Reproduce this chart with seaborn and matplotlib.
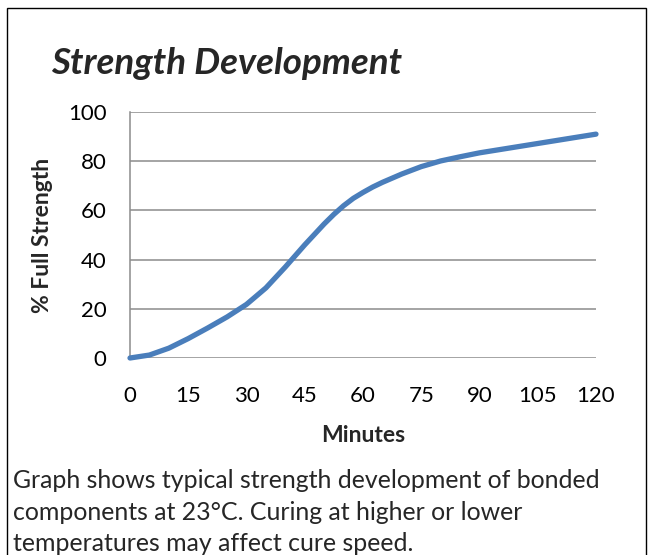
import pandas as pd
import seaborn as sns
import matplotlib.pyplot as plt
from matplotlib.patches import Rectangle

# values
minutes = [0, 5, 10, 15, 20, 25, 30, 35, 40, 45, 50, 52.5, 55, 57.5, 60, 62.5, 65, 70,
           75, 80, 85, 90, 105, 120]
strength = [0, 1.2, 4, 7.9, 12.2, 16.7, 21.8, 28.5, 37, 46, 54.5, 58.4, 61.9, 64.9,
            67.3, 69.5, 71.4, 74.8, 77.8, 80.1, 81.8, 83.4, 87.2, 91]
x_ticks = [0, 15, 30, 45, 60, 75, 90, 105, 120]
y_ticks = [0, 20, 40, 60, 80, 100]

title = "Strength Development"
caption_lines = ["Graph shows typical strength development of bonded",
                 "components at 23°C. Curing at higher or lower",
                 "temperatures may affect cure speed."]

sns.set_style("white")
plt.rcParams['font.family'] = ['Lato', 'DejaVu Sans']

df = pd.DataFrame({'Minutes': minutes, 'Strength': strength})

W, H = 652, 555
fig = plt.figure(figsize=(W / 100, H / 100), dpi=100)
ax = fig.add_axes([130 / W, 1 - 358 / H, 466 / W, 246 / H])

sns.lineplot(data=df, x='Minutes', y='Strength', ax=ax, color='#4A7EBB',
             linewidth=3.8, solid_capstyle='round', solid_joinstyle='round',
             clip_on=False, zorder=3)

ax.set_xlim(0, 120)
ax.set_ylim(0, 100)
ax.set_xticks(x_ticks)
ax.set_yticks(y_ticks)
ax.yaxis.grid(True, color='#8c8c8c', lw=1.1)
ax.xaxis.grid(False)
for s in ['top', 'right', 'bottom']:
    ax.spines[s].set_visible(False)
ax.spines['left'].set_color('#8c8c8c')
ax.spines['left'].set_linewidth(1.1)
ax.tick_params(axis='both', length=0, labelsize=16, colors='black')
ax.tick_params(axis='x', pad=20)
ax.tick_params(axis='y', pad=17)

ax.set_xlabel("Minutes", fontsize=16.5, fontweight='bold')
ax.xaxis.label.set_va('baseline')
ax.xaxis.set_label_coords(0.5, -(441.7 - 358) / 246)
ax.set_ylabel("% Full Strength", fontsize=16.5, fontweight='bold')
ax.yaxis.set_label_coords(-(130 - 53) / 466, 0.5)

fig.text(51 / W, 1 - 73.5 / H, title, fontsize=26.5, fontweight='bold',
         fontstyle='italic', va='baseline', ha='left')
for i, line in enumerate(caption_lines):
    fig.text(13 / W, 1 - (488.5 + 31.3 * i) / H, line, fontsize=17.9,
             va='baseline', ha='left')

fig.add_artist(Rectangle((7 / W, -0.1), (646 - 7) / W, (H - 8) / H + 0.1,
                         transform=fig.transFigure, fill=False,
                         ec='black', lw=1))

plt.savefig("out.png", dpi=100)
